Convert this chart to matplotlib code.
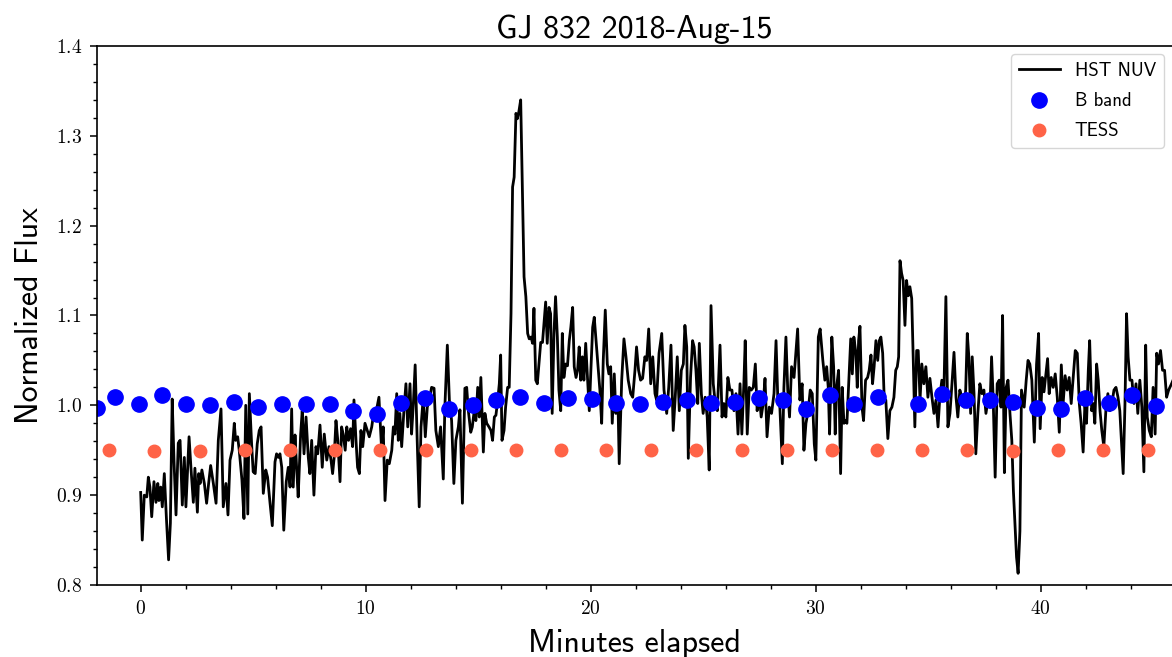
import matplotlib
matplotlib.use("Agg")
import matplotlib.pyplot as plt
from matplotlib.ticker import MultipleLocator

plt.rcParams['axes.formatter.use_mathtext'] = True

# HST NUV light curve (minutes elapsed, normalized flux)
nuv_time = [
    0.00, 0.07, 0.16, 0.27, 0.34, 0.41, 0.49, 0.59, 0.68, 0.76,
    0.81, 0.89, 0.96, 1.05, 1.14, 1.24, 1.32, 1.40, 1.48, 1.57,
    1.67, 1.75, 1.85, 1.94, 2.01, 2.15, 2.24, 2.34, 2.41, 2.52,
    2.58, 2.64, 2.72, 2.83, 2.93, 3.02, 3.11, 3.23, 3.35, 3.45,
    3.57, 3.67, 3.79, 3.88, 3.97, 4.07, 4.16, 4.22, 4.31, 4.38,
    4.50, 4.59, 4.67, 4.76, 4.83, 4.93, 5.00, 5.09, 5.18, 5.27,
    5.35, 5.45, 5.56, 5.64, 5.75, 5.85, 5.97, 6.04, 6.12, 6.19,
    6.27, 6.36, 6.47, 6.56, 6.64, 6.71, 6.78, 6.86, 6.93, 7.00,
    7.11, 7.18, 7.26, 7.35, 7.45, 7.52, 7.60, 7.70, 7.79, 7.87,
    7.97, 8.07, 8.16, 8.27, 8.37, 8.46, 8.53, 8.60, 8.68, 8.76,
    8.86, 8.93, 9.00, 9.09, 9.16, 9.24, 9.33, 9.42, 9.48, 9.57,
    9.64, 9.72, 9.79, 9.87, 9.97, 10.07, 10.16, 10.27, 10.37, 10.49,
    10.59, 10.71, 10.78, 10.86, 10.96, 11.05, 11.16, 11.23, 11.30, 11.38,
    11.45, 11.52, 11.60, 11.70, 11.79, 11.87, 11.97, 12.04, 12.12, 12.20,
    12.29, 12.38, 12.46, 12.56, 12.65, 12.74, 12.83, 12.93, 13.04, 13.12,
    13.23, 13.33, 13.45, 13.52, 13.63, 13.72, 13.82, 13.92, 14.01, 14.12,
    14.19, 14.30, 14.41, 14.49, 14.56, 14.67, 14.74, 14.81, 14.90, 14.98,
    15.05, 15.12, 15.23, 15.30, 15.38, 15.48, 15.57, 15.64, 15.72, 15.79,
    15.87, 15.94, 16.00, 16.06, 16.15, 16.22, 16.31, 16.38, 16.46, 16.53,
    16.60, 16.68, 16.74, 16.81, 16.89, 16.96, 17.04, 17.12, 17.20, 17.27,
    17.35, 17.42, 17.48, 17.56, 17.63, 17.70, 17.78, 17.86, 17.94, 18.00,
    18.07, 18.15, 18.22, 18.29, 18.37, 18.44, 18.52, 18.59, 18.67, 18.74,
    18.81, 18.89, 18.97, 19.05, 19.12, 19.20, 19.27, 19.35, 19.42, 19.49,
    19.56, 19.63, 19.70, 19.78, 19.85, 19.94, 20.01, 20.09, 20.16, 20.24,
    20.31, 20.41, 20.49, 20.56, 20.65, 20.74, 20.81, 20.89, 20.96, 21.05,
    21.12, 21.21, 21.27, 21.38, 21.48, 21.57, 21.67, 21.78, 21.87, 21.97,
    22.04, 22.13, 22.22, 22.31, 22.41, 22.49, 22.58, 22.67, 22.76, 22.86,
    22.93, 23.04, 23.16, 23.26, 23.38, 23.47, 23.57, 23.67, 23.76, 23.85,
    23.94, 24.03, 24.12, 24.19, 24.27, 24.34, 24.44, 24.53, 24.60, 24.68,
    24.76, 24.83, 24.92, 25.00, 25.09, 25.18, 25.27, 25.35, 25.45, 25.54,
    25.63, 25.75, 25.84, 25.92, 26.01, 26.10, 26.19, 26.28, 26.37, 26.46,
    26.55, 26.64, 26.72, 26.81, 26.87, 26.96, 27.05, 27.14, 27.23, 27.32,
    27.40, 27.49, 27.58, 27.67, 27.75, 27.84, 27.94, 28.04, 28.15, 28.24,
    28.32, 28.41, 28.52, 28.59, 28.68, 28.76, 28.84, 28.93, 29.04, 29.11,
    29.20, 29.30, 29.40, 29.48, 29.57, 29.67, 29.76, 29.85, 29.94, 30.01,
    30.12, 30.20, 30.32, 30.41, 30.49, 30.56, 30.62, 30.72, 30.80, 30.87,
    30.93, 31.02, 31.11, 31.18, 31.26, 31.33, 31.39, 31.47, 31.56, 31.63,
    31.70, 31.79, 31.85, 31.91, 31.97, 32.06, 32.13, 32.22, 32.31, 32.38,
    32.46, 32.53, 32.60, 32.68, 32.76, 32.83, 32.90, 32.98, 33.05, 33.12,
    33.21, 33.30, 33.39, 33.48, 33.56, 33.63, 33.69, 33.75, 33.82, 33.89,
    33.97, 34.04, 34.12, 34.19, 34.27, 34.34, 34.41, 34.49, 34.56, 34.64,
    34.72, 34.81, 34.90, 34.99, 35.08, 35.17, 35.26, 35.35, 35.44, 35.52,
    35.61, 35.70, 35.79, 35.88, 35.97, 36.06, 36.15, 36.24, 36.32, 36.41,
    36.50, 36.59, 36.67, 36.74, 36.81, 36.89, 36.96, 37.04, 37.12, 37.21,
    37.30, 37.39, 37.48, 37.57, 37.66, 37.75, 37.82, 37.89, 37.98, 38.07,
    38.16, 38.24, 38.31, 38.39, 38.47, 38.55, 38.64, 38.72, 38.79, 38.86,
    38.93, 39.00, 39.08, 39.15, 39.20, 39.27, 39.36, 39.44, 39.52, 39.61,
    39.72, 39.82, 39.91, 39.98, 40.07, 40.15, 40.22, 40.31, 40.38, 40.47,
    40.56, 40.65, 40.74, 40.83, 40.92, 41.00, 41.09, 41.18, 41.27, 41.36,
    41.45, 41.54, 41.63, 41.72, 41.80, 41.89, 41.97, 42.04, 42.12, 42.18,
    42.27, 42.34, 42.41, 42.49, 42.56, 42.64, 42.72, 42.81, 42.90, 42.99,
    43.08, 43.17, 43.26, 43.35, 43.44, 43.52, 43.60, 43.67, 43.75, 43.82,
    43.89, 43.97, 44.06, 44.15, 44.24, 44.32, 44.41, 44.50, 44.59, 44.67,
    44.74, 44.83, 44.92, 45.00, 45.09, 45.16, 45.24, 45.33, 45.42, 45.51,
    45.60, 45.69, 45.82, 45.92,
]
nuv_flux = [
    0.903, 0.850, 0.900, 0.898, 0.920, 0.909, 0.876, 0.915, 0.892, 0.913,
    0.894, 0.909, 0.887, 0.924, 0.876, 0.828, 0.869, 1.007, 0.939, 0.878,
    0.958, 0.961, 0.889, 0.942, 0.887, 0.965, 0.928, 0.892, 0.930, 0.881,
    0.924, 0.913, 0.928, 0.913, 0.891, 0.913, 0.933, 0.913, 0.891, 0.961,
    0.996, 0.887, 0.913, 0.878, 0.939, 0.950, 0.980, 0.961, 0.965, 0.950,
    0.917, 0.874, 1.000, 0.879, 1.013, 0.957, 0.926, 0.924, 0.957, 0.972,
    0.976, 0.902, 0.928, 0.920, 0.891, 0.866, 0.937, 0.946, 0.942, 0.946,
    0.931, 0.861, 0.915, 0.931, 0.909, 0.996, 0.909, 0.967, 0.931, 0.898,
    0.968, 0.994, 0.946, 0.987, 0.942, 0.924, 0.961, 0.900, 0.954, 0.946,
    0.978, 0.931, 0.968, 0.939, 0.954, 0.939, 0.924, 0.942, 0.983, 0.961,
    0.915, 0.976, 0.968, 0.950, 0.976, 0.961, 0.974, 0.954, 1.006, 0.961,
    0.931, 0.924, 0.972, 0.954, 0.980, 0.972, 0.965, 0.976, 0.994, 0.996,
    1.009, 0.950, 0.976, 0.894, 0.939, 0.935, 0.950, 0.976, 0.968, 1.013,
    0.961, 0.991, 0.954, 0.994, 1.024, 0.976, 1.024, 0.968, 1.002, 1.045,
    0.961, 0.887, 0.976, 1.009, 0.965, 0.998, 1.006, 1.020, 1.019, 0.972,
    0.954, 0.976, 0.918, 0.998, 1.067, 1.006, 0.983, 0.913, 0.961, 0.976,
    0.995, 0.891, 1.019, 1.020, 0.995, 0.970, 0.976, 0.991, 0.983, 1.020,
    0.987, 1.031, 0.948, 0.991, 0.980, 0.976, 0.972, 0.961, 0.987, 0.989,
    1.006, 1.024, 1.056, 0.961, 0.972, 0.998, 1.020, 1.020, 1.102, 1.243,
    1.254, 1.325, 1.319, 1.327, 1.340, 1.250, 1.143, 1.121, 1.080, 1.074,
    1.076, 1.069, 1.108, 1.028, 1.024, 1.046, 1.070, 1.070, 1.095, 1.115,
    1.069, 1.109, 1.102, 0.991, 1.080, 1.121, 1.076, 1.017, 0.994, 1.080,
    1.031, 1.046, 1.044, 1.072, 1.087, 1.109, 1.043, 1.031, 1.039, 1.065,
    1.028, 1.054, 1.028, 1.069, 1.035, 0.994, 1.039, 1.087, 1.098, 1.072,
    1.050, 1.017, 0.980, 1.050, 1.106, 1.046, 1.035, 1.043, 0.980, 1.035,
    0.991, 1.009, 0.935, 1.028, 1.074, 1.054, 1.028, 1.013, 1.009, 1.039,
    1.065, 1.039, 1.028, 1.030, 1.054, 1.050, 1.085, 1.024, 1.054, 1.013,
    1.006, 1.058, 1.080, 1.017, 0.991, 1.020, 1.067, 0.972, 1.009, 1.054,
    0.994, 1.039, 1.046, 1.089, 1.065, 0.941, 1.031, 1.072, 1.065, 1.039,
    1.002, 1.069, 1.013, 0.991, 1.009, 0.987, 0.928, 1.111, 1.024, 1.002,
    0.994, 1.067, 0.987, 1.002, 0.987, 1.031, 1.017, 1.017, 0.994, 1.013,
    0.968, 1.024, 0.968, 1.024, 1.072, 0.968, 1.020, 1.017, 1.020, 1.046,
    0.994, 1.013, 0.987, 1.002, 1.030, 0.965, 0.998, 0.991, 1.013, 1.072,
    1.006, 0.998, 0.935, 1.020, 1.076, 1.017, 0.987, 1.043, 1.031, 1.054,
    1.085, 1.006, 1.024, 0.950, 0.980, 0.994, 1.017, 1.013, 0.957, 0.939,
    1.076, 1.085, 1.050, 1.028, 1.043, 1.020, 0.968, 1.076, 1.043, 0.968,
    1.020, 1.039, 0.924, 1.020, 0.980, 0.983, 0.980, 1.024, 1.074, 1.035,
    1.076, 1.058, 1.020, 1.072, 1.088, 0.998, 0.983, 1.028, 1.031, 1.039,
    1.056, 1.024, 1.043, 1.072, 1.050, 1.072, 1.076, 1.058, 1.006, 1.006,
    0.963, 0.994, 0.998, 1.009, 1.039, 1.043, 1.054, 1.161, 1.147, 1.139,
    1.089, 1.139, 1.122, 1.132, 1.119, 1.050, 0.976, 1.061, 1.061, 1.006,
    1.046, 1.024, 1.043, 1.009, 1.030, 1.009, 0.991, 1.006, 0.976, 1.009,
    1.028, 1.013, 1.121, 0.976, 0.991, 1.024, 1.059, 1.009, 0.987, 1.017,
    1.009, 0.998, 1.017, 1.080, 1.054, 0.991, 1.054, 1.013, 0.946, 0.991,
    1.024, 1.013, 1.017, 0.991, 1.006, 0.998, 1.054, 1.009, 0.920, 1.024,
    1.028, 0.998, 1.100, 0.925, 1.020, 1.028, 0.990, 0.961, 0.905, 0.868,
    0.831, 0.813, 0.860, 1.017, 1.009, 0.998, 1.028, 1.050, 1.046, 1.028,
    0.959, 1.046, 1.080, 0.974, 1.031, 1.015, 1.031, 1.052, 1.013, 1.031,
    1.020, 1.035, 1.009, 0.970, 1.045, 1.002, 1.033, 1.017, 1.031, 1.002,
    1.031, 1.061, 1.058, 1.002, 0.980, 0.948, 1.002, 0.980, 1.039, 1.072,
    0.994, 1.002, 0.980, 1.046, 1.028, 0.994, 0.972, 0.954, 0.994, 1.013,
    0.994, 1.002, 1.017, 1.020, 1.009, 0.994, 0.957, 0.924, 1.002, 1.102,
    1.054, 1.028, 1.028, 1.002, 1.024, 0.991, 1.028, 0.998, 0.926, 1.067,
    0.987, 0.972, 0.965, 1.020, 0.968, 1.058, 1.046, 1.061, 1.039, 1.039,
    1.009, 1.017, 1.024, 1.030,
]

# B band photometry
b_time = [-1.94, -1.14, -0.08, 0.95, 2.01, 3.08, 4.15, 5.21, 6.28, 7.35,
          8.41, 9.44, 10.50, 11.57, 12.64, 13.70, 14.77, 15.79, 16.86, 17.93,
          19.00, 20.06, 21.12, 22.19, 23.21, 24.28, 25.35, 26.42, 27.48, 28.55,
          29.57, 30.64, 31.70, 32.77, 34.55, 35.61, 36.68, 37.75, 38.77, 39.84,
          40.90, 41.97, 43.03, 44.06, 45.12]
b_flux = [0.997, 1.009, 1.002, 1.011, 1.001, 1.000, 1.004, 0.998, 1.002, 1.001,
          1.002, 0.994, 0.990, 1.003, 1.008, 0.996, 1.000, 1.006, 1.009, 1.003,
          1.008, 1.007, 1.003, 1.002, 1.004, 1.006, 1.003, 1.004, 1.008, 1.006,
          0.996, 1.012, 1.001, 1.009, 1.001, 1.013, 1.006, 1.006, 1.004, 0.997,
          0.996, 1.008, 1.003, 1.011, 0.999]

# TESS 2-minute cadence
tess_time = [-1.40, 0.61, 2.62, 4.62, 6.63, 8.64, 10.65, 12.66, 14.66, 16.67,
             18.68, 20.69, 22.70, 24.70, 26.71, 28.72, 30.73, 32.74, 34.74, 36.75,
             38.76, 40.77, 42.78, 44.78]
tess_flux = [0.950, 0.949, 0.949, 0.950, 0.950, 0.950, 0.950, 0.950, 0.950, 0.950,
             0.950, 0.950, 0.950, 0.950, 0.950, 0.950, 0.950, 0.950, 0.950, 0.950,
             0.949, 0.950, 0.950, 0.950]

fig = plt.figure(figsize=(11.72, 6.57), dpi=100)
ax = fig.add_axes([0.0828, 0.1096, 0.9172, 0.8204])

ax.plot(nuv_time, nuv_flux, color='black', lw=2.0, label='HST NUV')
ax.plot(b_time, b_flux, 'o', color='blue', ms=11, label='B band')
ax.plot(tess_time, tess_flux, 'o', color='tomato', ms=9, label='TESS')

ax.set_xlim(-1.94, 45.84)
ax.set_ylim(0.8, 1.4)
ax.xaxis.set_major_locator(MultipleLocator(10))
ax.xaxis.set_minor_locator(MultipleLocator(2))
ax.yaxis.set_major_locator(MultipleLocator(0.1))
ax.yaxis.set_minor_locator(MultipleLocator(0.02))
ax.tick_params(which='major', length=5, width=1.1, labelsize=14, pad=6)
ax.tick_params(which='minor', length=3, width=1.0)
for lab in ax.get_xticklabels() + ax.get_yticklabels():
    lab.set_fontfamily('cmr10')
ax.spines['right'].set_visible(False)
for s in ['left', 'bottom', 'top']:
    ax.spines[s].set_linewidth(1.2)

ax.set_xlabel('Minutes elapsed', fontfamily='cmss10', fontsize=23, labelpad=8)
ax.set_ylabel('Normalized Flux', fontfamily='cmss10', fontsize=23, labelpad=8)
ax.set_title('GJ 832 2018-Aug-15', fontfamily='cmss10', fontsize=23, pad=6)

ax.legend(loc='upper right', prop={'family': 'cmss10', 'size': 13.5},
          borderaxespad=0.45, labelspacing=0.65, handlelength=2.2)

fig.savefig('out.png', dpi=100)
